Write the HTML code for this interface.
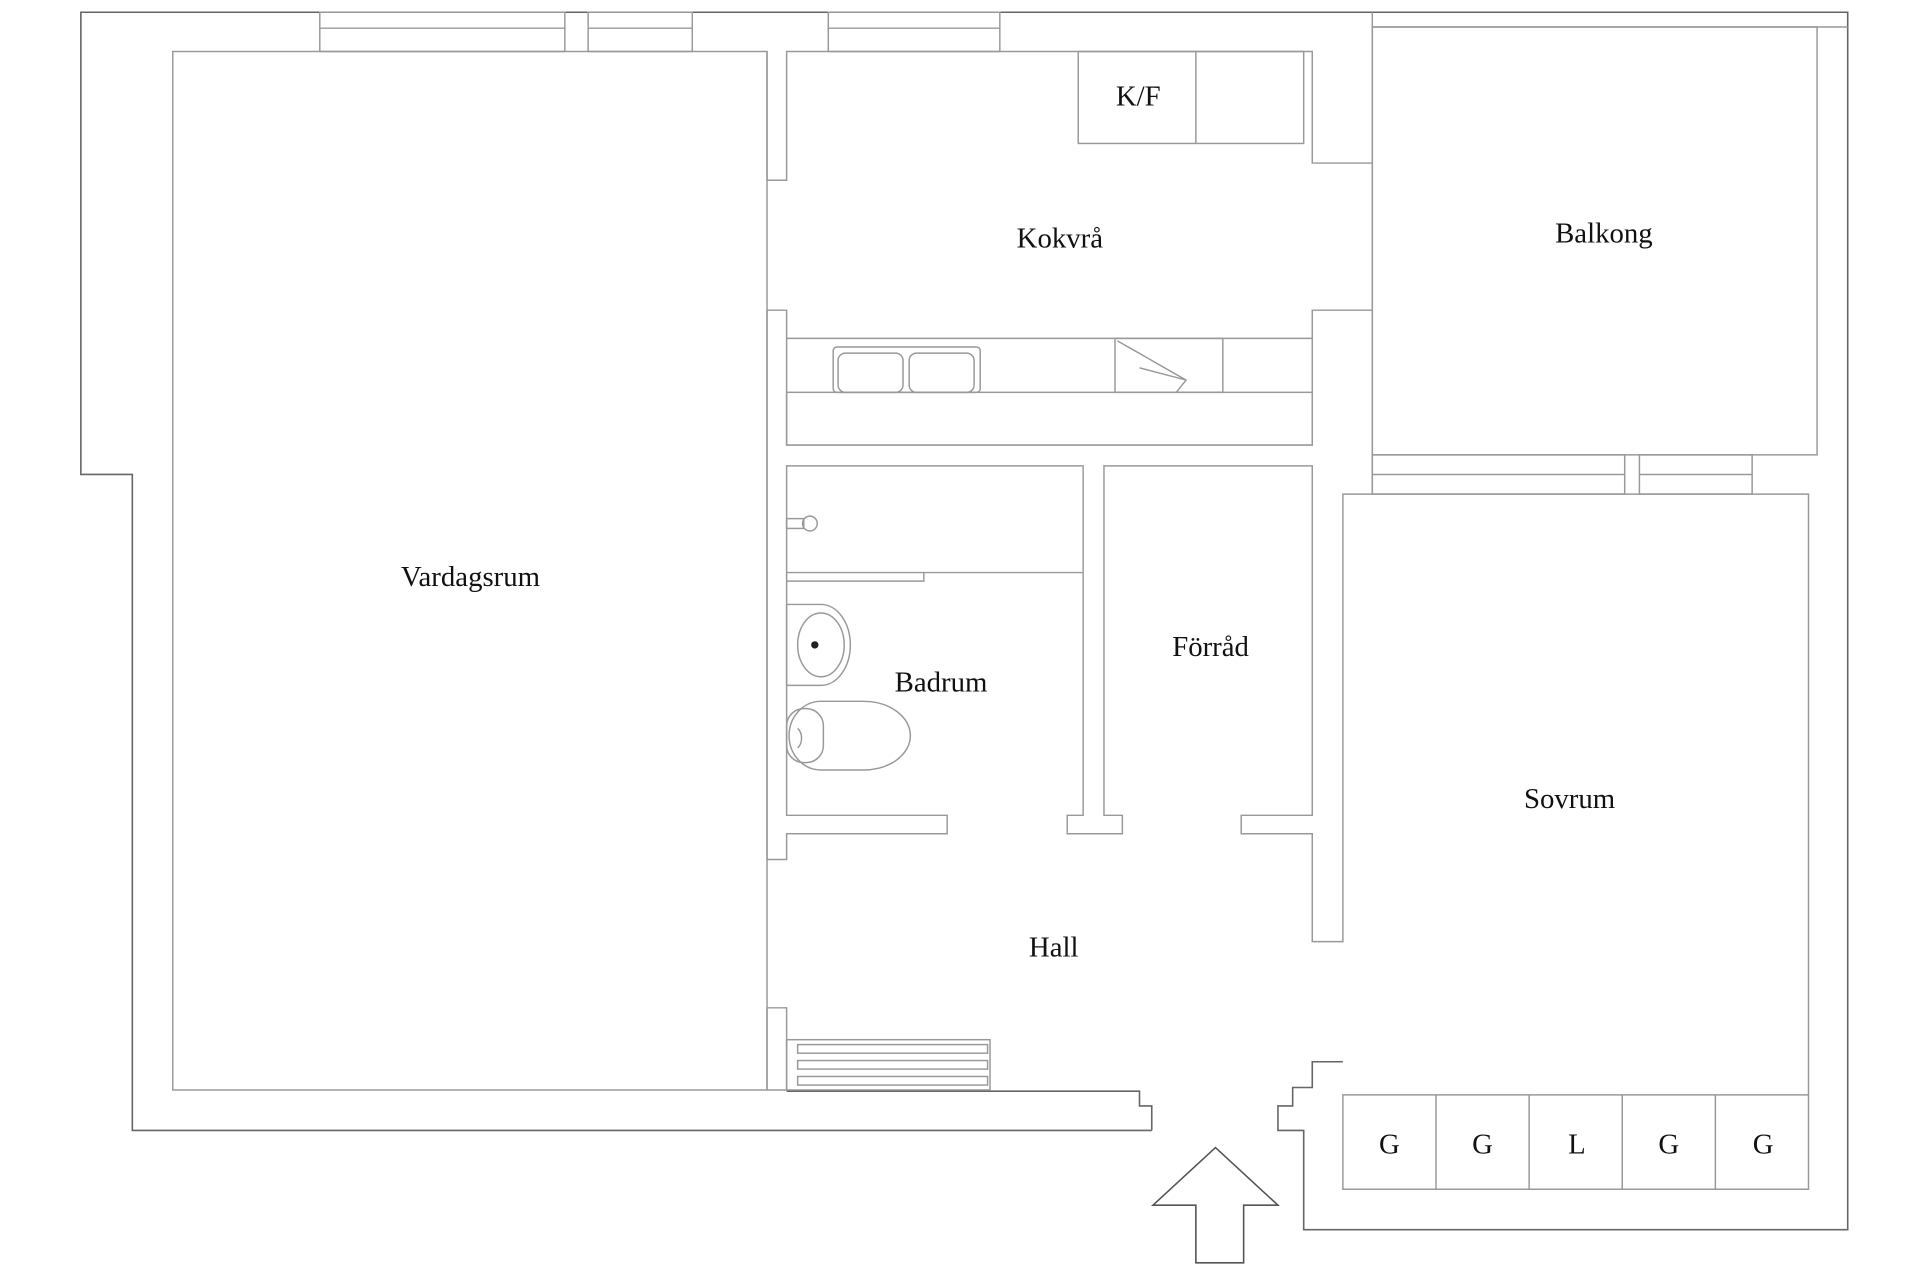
<!DOCTYPE html>
<html><head><meta charset="utf-8"><style>
html,body{margin:0;padding:0;background:#fff;}
svg{display:block;}
text{font-family:"Liberation Serif",serif;font-size:23.5px;fill:#111;text-anchor:middle;}
</style></head><body>
<svg width="1920" height="1280" viewBox="0 0 1567 1044" preserveAspectRatio="none" xmlns="http://www.w3.org/2000/svg">
<g fill="none" stroke="#666" stroke-width="1.3">
<polyline points="940,922 108,922 108,387 66,387 66,10 1508,10 1508,1003 1064,1003 1064,922 1043,922 1043,902 1055,902 1055,887 1071,887 1071,866 1096,866"/>
<polyline points="940,922 940,902 930,902 930,890 900,890 642,890"/>
</g>
<g fill="none" stroke="#999" stroke-width="1.2">
<rect x="261" y="10" width="200" height="32"/><line x1="261" y1="23" x2="461" y2="23"/>
<rect x="480" y="10" width="85" height="32"/><line x1="480" y1="23" x2="565" y2="23"/>
<rect x="676" y="10" width="140" height="32"/><line x1="676" y1="23" x2="816" y2="23"/>
<rect x="141" y="42" width="485" height="847"/>
<polyline points="626,42 626,147 642,147 642,42 1071,42 1071,133 1120,133"/>
<polyline points="1120,253 1071,253 1071,363 642,363 642,253 626,253 626,701 642,701 642,680 773,680 773,665 642,665 642,380 884,380 884,665 871,665 871,680 916,680 916,665 901,665 901,380 1071,380 1071,665 1013,665 1013,680 1071,680 1071,768 1096,768 1096,403 1476,403 1476,970 1096,970 1096,893 1476,893"/>
<polyline points="626,822 642,822 642,889 626,889 626,822"/>
<rect x="880" y="42" width="184" height="75"/><line x1="976" y1="42" x2="976" y2="117"/>
<line x1="1120" y1="22" x2="1508" y2="22"/>
<rect x="1120" y="22" width="363" height="349"/>
<line x1="1120" y1="10" x2="1120" y2="403"/>
<rect x="1120" y="371" width="206" height="32"/><line x1="1120" y1="387" x2="1326" y2="387"/>
<rect x="1338" y="371" width="92" height="32"/><line x1="1338" y1="387" x2="1430" y2="387"/>
<line x1="642" y1="276" x2="1071" y2="276"/>
<rect x="642" y="320" width="429" height="43"/>
<rect x="680" y="283" width="120" height="37" rx="3"/>
<rect x="684" y="288" width="53" height="32" rx="6"/><rect x="742" y="288" width="53" height="32" rx="6"/>
<rect x="910" y="276" width="88" height="44"/>
<polyline points="912,278 968,310 960,320"/><line x1="930" y1="300" x2="968" y2="310"/>
<polyline points="642,474 754,474 754,467 884,467"/><line x1="642" y1="467" x2="754" y2="467"/>
<rect x="642" y="423" width="14" height="8"/><circle cx="661" cy="427" r="6"/>
<path d="M642,493 L670,493 A24,33 0 0 1 670,559 L642,559 Z"/>
<ellipse cx="670" cy="526" rx="19" ry="26"/>
<path d="M670,572 L705,572 A38,28 0 0 1 705,628 L670,628 A26,28 0 0 1 670,572 Z"/>
<rect x="642" y="578" width="30" height="44" rx="14"/>
<path d="M651,594 A8,10 0 0 1 651,610"/>
<rect x="642" y="848" width="166" height="41"/>
<rect x="651" y="852" width="155" height="7"/><rect x="651" y="865" width="155" height="7"/><rect x="651" y="878" width="155" height="7"/>
<line x1="1172" y1="893" x2="1172" y2="970"/><line x1="1248" y1="893" x2="1248" y2="970"/>
<line x1="1324" y1="893" x2="1324" y2="970"/><line x1="1400" y1="893" x2="1400" y2="970"/>
</g>
<circle cx="665" cy="526" r="3" fill="#222"/>
<polygon points="992,936 1043,983 1015,983 1015,1030 976,1030 976,983 941,983" fill="#fff" stroke="#555" stroke-width="1.3"/>
<text x="929" y="86">K/F</text>
<text x="865" y="202">Kokvrå</text>
<text x="1309" y="198">Balkong</text>
<text x="384" y="478">Vardagsrum</text>
<text x="768" y="564">Badrum</text>
<text x="988" y="535">Förråd</text>
<text x="1281" y="659">Sovrum</text>
<text x="860" y="780">Hall</text>
<text x="1134" y="941">G</text><text x="1210" y="941">G</text><text x="1287" y="941">L</text><text x="1362" y="941">G</text><text x="1439" y="941">G</text>
</svg>
</body></html>
